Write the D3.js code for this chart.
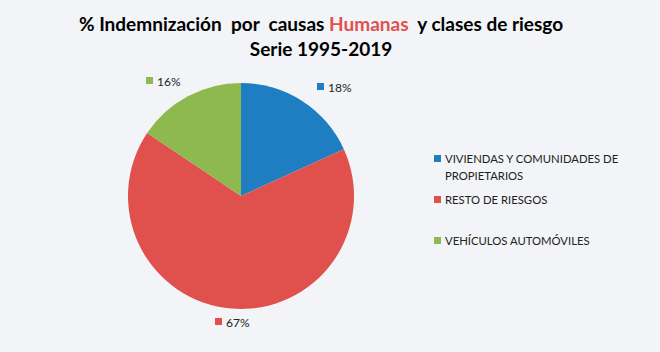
<!DOCTYPE html>
<html><head><meta charset="utf-8">
<script src="https://cdn.jsdelivr.net/npm/d3@7"></script>
<style>body{margin:0;background:#F2F4F7;}svg{display:block;}</style>
</head><body>
<svg id="c" width="660" height="352"></svg>
<script>
const categories = ["VIVIENDAS Y COMUNIDADES DE PROPIETARIOS", "RESTO DE RIESGOS", "VEHÍCULOS AUTOMÓVILES"];
const values = [18.2, 66.2, 15.6];
const labels = ["18%", "67%", "16%"];
const colors = ["#1F7EC2", "#E0504D", "#8DB94F"];

const svg = d3.select("#c");
svg.append("rect").attr("width",660).attr("height",352).attr("fill","#F2F4F7");
const font = "Lato, 'Open Sans', sans-serif";

// Title
const t1 = svg.append("text").attr("x",321).attr("y",31).attr("text-anchor","middle")
  .attr("font-family",font).attr("font-weight","bold").attr("font-size",19).attr("fill","#000")
  .attr("xml:space","preserve");
t1.append("tspan").text("% Indemnización  por  causas ");
t1.append("tspan").attr("fill","#E0504D").text("Humanas");
t1.append("tspan").text("  y clases de riesgo");
svg.append("text").attr("x",321).attr("y",56).attr("text-anchor","middle")
  .attr("font-family",font).attr("font-weight","bold").attr("font-size",19).attr("fill","#000")
  .text("Serie 1995-2019");

const cx = 241, cy = 196, r = 113;
const pie = d3.pie().sort(null).value(d=>d)(values);
const arc = d3.arc().innerRadius(0).outerRadius(r);
const g = svg.append("g").attr("transform",`translate(${cx},${cy})`);
g.selectAll("path").data(pie).join("path").attr("d",arc).attr("fill",(d,i)=>colors[i]);

// Data labels
const labelPos = [[317,83],[215,318],[146,77]];
labelPos.forEach((p,i)=>{
  svg.append("rect").attr("x",p[0]).attr("y",p[1]).attr("width",7).attr("height",7).attr("fill",colors[i]);
  svg.append("text").attr("x",p[0]+11).attr("y",p[1]+9).attr("font-family",font).attr("font-size",12)
    .attr("fill","#222").text(labels[i]);
});

// Legend
const legY = [155, 196, 237];
const legLines = [["VIVIENDAS Y COMUNIDADES DE","PROPIETARIOS"],["RESTO DE RIESGOS"],["VEHÍCULOS AUTOMÓVILES"]];
legLines.forEach((lines,i)=>{
  svg.append("rect").attr("x",434).attr("y",legY[i]).attr("width",7).attr("height",7).attr("fill",colors[i]);
  const tx = svg.append("text").attr("font-family",font).attr("font-size",11.3).attr("fill","#222");
  lines.forEach((l,j)=>tx.append("tspan").attr("x",445).attr("y",legY[i]+8+j*17).text(l));
});
</script>
</body></html>
